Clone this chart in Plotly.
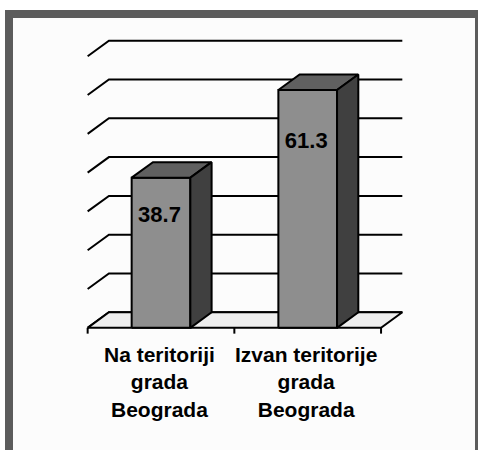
import plotly.graph_objects as go

categories = ["Na teritoriji<br>grada<br>Beograda", "Izvan teritorije<br>grada<br>Beograda"]
values = [38.7, 61.3]
grid_values = [0, 10, 20, 30, 40, 50, 60, 70]

# 3D geometry (in data units)
DX = 0.145   # depth offset along x
DY = 4.0     # depth offset along y
BW = 0.40    # bar width
X0, X1 = -0.5, 1.5

FRONT = "#8e8e8e"
TOP = "#606060"
SIDE = "#404040"
FLOOR = "#eeeeee"
LINE = "#000000"

fig = go.Figure()

# gridlines on back wall + side diagonals
for g in grid_values:
    fig.add_trace(go.Scatter(
        x=[X0, X0 + DX, X1 + DX], y=[g - DY, g, g],
        mode="lines", line=dict(color=LINE, width=2),
        hoverinfo="skip", showlegend=False))

# floor
fig.add_trace(go.Scatter(
    x=[X0, X1, X1 + DX, X0 + DX, X0], y=[-DY, -DY, 0, 0, -DY],
    mode="lines", fill="toself", fillcolor=FLOOR,
    line=dict(color=LINE, width=2), hoverinfo="skip", showlegend=False))

# category ticks
for t in [X0, 0.5, X1]:
    fig.add_trace(go.Scatter(
        x=[t, t], y=[-DY, -DY - 1.5], mode="lines",
        line=dict(color=LINE, width=2), hoverinfo="skip", showlegend=False))

# bars
for i, v in enumerate(values):
    xl, xr = i - BW / 2, i + BW / 2
    # front face
    fig.add_trace(go.Scatter(
        x=[xl, xr, xr, xl, xl], y=[-DY, -DY, v - DY, v - DY, -DY],
        mode="lines", fill="toself", fillcolor=FRONT,
        line=dict(color=LINE, width=2), hoverinfo="skip", showlegend=False))
    # top face
    fig.add_trace(go.Scatter(
        x=[xl, xr, xr + DX, xl + DX, xl], y=[v - DY, v - DY, v, v, v - DY],
        mode="lines", fill="toself", fillcolor=TOP,
        line=dict(color=LINE, width=2), hoverinfo="skip", showlegend=False))
    # side face
    fig.add_trace(go.Scatter(
        x=[xr, xr + DX, xr + DX, xr, xr], y=[-DY, 0, v, v - DY, -DY],
        mode="lines", fill="toself", fillcolor=SIDE,
        line=dict(color=LINE, width=2), hoverinfo="skip", showlegend=False))

# value labels
fig.add_trace(go.Scatter(
    x=[i - 0.01 for i in range(len(values))],
    y=[v * 0.835 - 7.5 for v in values],
    mode="text", text=[f"{v:.1f}" for v in values],
    textfont=dict(family="Arial, Liberation Sans", size=22, color="#000000", weight="bold"),
    textposition="middle center", hoverinfo="skip", showlegend=False))

# category labels
for i, c in enumerate(categories):
    fig.add_annotation(
        x=i - 0.01, y=-DY - 3.5, text=c, showarrow=False,
        xanchor="center", yanchor="top", align="center",
        font=dict(family="Arial, Liberation Sans", size=21, color="#000000", weight="bold"))

W, H = 478, 450
PXX = 146.7
PXY = 3.88
xa = -161 / PXX
ya = 312.3 / PXY - H / PXY

fig.update_layout(
    width=W, height=H, autosize=False,
    margin=dict(l=0, r=0, t=0, b=0, pad=0),
    paper_bgcolor="#ffffff", plot_bgcolor="#ffffff",
    xaxis=dict(range=[xa, xa + W / PXX], visible=False, fixedrange=True),
    yaxis=dict(range=[ya, ya + H / PXY], visible=False, fixedrange=True),
    showlegend=False,
    shapes=[dict(type="rect", xref="paper", yref="paper",
                 x0=9 / W, x1=479 / W, y0=-0.03, y1=1 - 14 / H,
                 line=dict(color="#5c5c5c", width=8), fillcolor="#fcfcfc",
                 layer="below")],
)

fig.write_html(
    "out.html",
    config={"displayModeBar": False},
    post_script="document.body.style.margin='0';document.body.style.overflow='hidden';",
)
